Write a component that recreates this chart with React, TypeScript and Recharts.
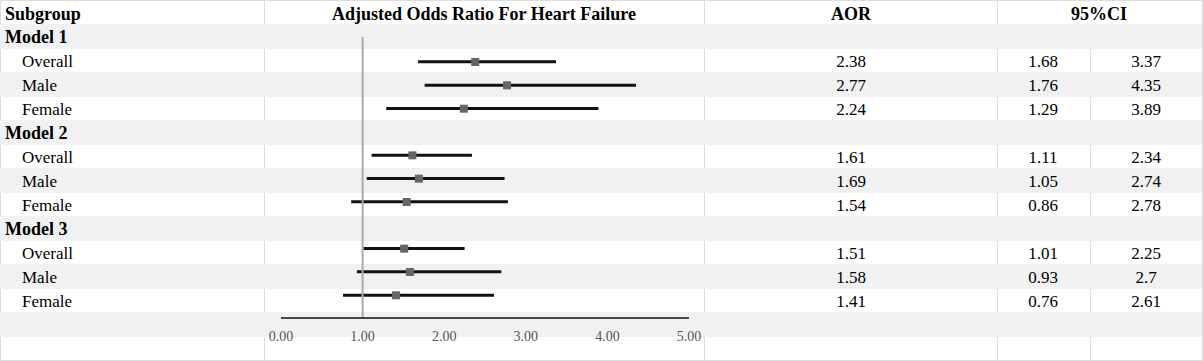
import React from 'react';
import { ComposedChart, Bar, Scatter, XAxis, YAxis, ReferenceLine } from 'recharts';

// rows of the forest plot
const subgroups = ['Model 1', 'Overall', 'Male', 'Female', 'Model 2', 'Overall', 'Male', 'Female', 'Model 3', 'Overall', 'Male', 'Female'];
const aorValues = [null, 2.38, 2.77, 2.24, null, 1.61, 1.69, 1.54, null, 1.51, 1.58, 1.41];
const ciLower = [null, 1.68, 1.76, 1.29, null, 1.11, 1.05, 0.86, null, 1.01, 0.93, 0.76];
const ciUpper = [null, 3.37, 4.35, 3.89, null, 2.34, 2.74, 2.78, null, 2.25, 2.7, 2.61];
const xTicks = [0, 1, 2, 3, 4, 5];

const FONT = '"Liberation Serif", "Times New Roman", serif';
const W = 1203;
const H = 361;
const GRID = '#dddddd';
const SHADE = '#f1f1f1';

const rows = subgroups.map((name, i) => ({
    id: `r${i}`,
    name,
    isModel: name.startsWith('Model'),
    aor: aorValues[i],
    lo: ciLower[i],
    hi: ciUpper[i],
    ci: ciLower[i] != null ? [ciLower[i], ciUpper[i]] : null,
}));

// 표 텍스트 (table 축 tick 으로 그림)
const renderRowTick = (props: any) => {
    const { y, payload, index } = props;
    const row = rows.find(r => r.id === payload?.value) ?? rows[index];
    if (!row) return <g />;
    const base = Number(y) + 7;
    if (row.isModel) {
        return (
            <text key={row.id} x={5} y={base} fontFamily={FONT} fontSize={18} fontWeight="bold" fill="#000">{row.name}</text>
        );
    }
    return (
        <g key={row.id} fontFamily={FONT} fontSize={17} fill="#000">
            <text x={22} y={base}>{row.name}</text>
            <text x={851} y={base} textAnchor="middle">{String(row.aor)}</text>
            <text x={1043} y={base} textAnchor="middle">{String(row.lo)}</text>
            <text x={1146} y={base} textAnchor="middle">{String(row.hi)}</text>
        </g>
    );
};

const SquareDot = (props: any) => {
    const { cx, cy } = props;
    if (cx == null || cy == null) return null;
    return <rect x={cx - 4} y={cy - 4} width={8} height={8} fill="#666666" />;
};

const RefShape = (props: any) => {
    const x = props.x1;
    const top = Math.min(props.y1, props.y2);
    const bottom = Math.max(props.y1, props.y2);
    return <line x1={x} x2={x} y1={top + 13} y2={bottom + 1} stroke="#aaaaaa" strokeWidth={2} />;
};

export default function App() {
    // 회색 줄 (row 배경)
    const shadeTops = [24, 72, 120, 168, 216, 264, 312];
    return (
        <div style={{ position: 'absolute', left: 0, top: 0, width: W, height: H, background: '#fff' }}>
            {/* cell borders */}
            <div style={{ position: 'absolute', left: 0, top: 0, width: 1201, height: 359, border: `1px solid ${GRID}`, boxSizing: 'content-box' }} />
            {[264, 704, 997].map(x => (
                <div key={x} style={{ position: 'absolute', left: x, top: 0, width: 1, height: 360, background: GRID }} />
            ))}
            <div style={{ position: 'absolute', left: 1090, top: 24, width: 1, height: 336, background: GRID }} />
            {shadeTops.map(t => (
                <div key={t} style={{ position: 'absolute', left: 0, top: t, width: 1202, height: 25, background: SHADE }} />
            ))}
            <div style={{ position: 'absolute', left: 0, top: 0 }}>
                <ComposedChart
                    width={W}
                    height={H}
                    layout="vertical"
                    data={rows}
                    margin={{ top: 24, right: W - 689, bottom: 0, left: 280 }}
                >
                    <XAxis
                        type="number"
                        domain={[0, 5]}
                        ticks={xTicks}
                        height={43}
                        tickFormatter={(v: number) => v.toFixed(2)}
                        tick={{ fill: '#555555', fontSize: 14, fontFamily: FONT }}
                        tickLine={false}
                        tickMargin={7}
                        axisLine={{ stroke: '#111111', strokeWidth: 1.5 }}
                    />
                    <YAxis
                        yAxisId="table"
                        type="category"
                        dataKey="id"
                        width={1}
                        axisLine={false}
                        tickLine={false}
                        padding={{ top: 0, bottom: 6 }}
                        tick={renderRowTick}
                        interval={0}
                    />
                    <YAxis
                        yAxisId="plot"
                        type="category"
                        dataKey="id"
                        hide
                        padding={{ top: 3, bottom: 11 }}
                    />
                    <Bar yAxisId="plot" dataKey="ci" barSize={3} fill="#111111" isAnimationActive={false} />
                    <Scatter yAxisId="plot" dataKey="aor" shape={<SquareDot />} isAnimationActive={false} />
                    <ReferenceLine yAxisId="plot" x={1} shape={<RefShape />} ifOverflow="visible" />
                    <text x={5} y={20} fontFamily={FONT} fontSize={18} fontWeight="bold" fill="#000">Subgroup</text>
                    <text x={484} y={20} textAnchor="middle" fontFamily={FONT} fontSize={18} fontWeight="bold" fill="#000">Adjusted Odds Ratio For Heart Failure</text>
                    <text x={851} y={20} textAnchor="middle" fontFamily={FONT} fontSize={18} fontWeight="bold" fill="#000">AOR</text>
                    <text x={1099} y={20} textAnchor="middle" fontFamily={FONT} fontSize={18} fontWeight="bold" fill="#000">95%CI</text>
                </ComposedChart>
            </div>
        </div>
    );
}
